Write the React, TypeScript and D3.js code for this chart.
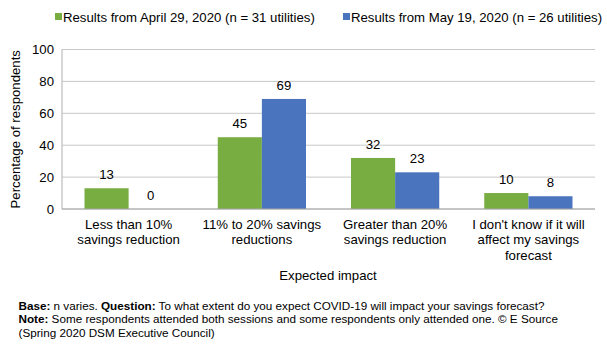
import React from "react";
import * as d3 from "d3";

const categories = [
  ["Less than 10%", "savings reduction"],
  ["11% to 20% savings", "reductions"],
  ["Greater than 20%", "savings reduction"],
  ["I don't know if it will", "affect my savings", "forecast"],
];
const seriesNames = [
  "Results from April 29, 2020 (n = 31 utilities)",
  "Results from May 19, 2020 (n = 26 utilities)",
];
const april = [13, 45, 32, 10];
const may = [0, 69, 23, 8];
const yTicks = [0, 20, 40, 60, 80, 100];
const colors = ["#78AD42", "#4A75BE"];

export default function App() {
  const W = 607, H = 348;
  const left = 62, right = 595, top = 49.5, bottom = 209;
  const font = "Liberation Sans, Arial, sans-serif";
  const x = d3.scaleBand<number>().domain(d3.range(categories.length)).range([left, right]).paddingInner(0).paddingOuter(0);
  const x1 = d3.scaleBand<number>().domain([0, 1]).range([0, x.bandwidth()]).paddingOuter(0.51).paddingInner(0);
  const y = d3.scaleLinear().domain([0, 100]).range([bottom, top]);
  const series = [april, may];
  return (
    <svg width={W} height={H} style={{ position: "absolute", left: 0, top: 0, background: "#fff" }} fontFamily={font}>
      <rect width={W} height={H} fill="#fff" />
      {/* legend */}
      <rect x={55} y={13} width={7} height={7} fill={colors[0]} />
      <text x={63} y={21.5} fontSize={13.2} fill="#000">{seriesNames[0]}</text>
      <rect x={343} y={13} width={7} height={7} fill={colors[1]} />
      <text x={351} y={21.5} fontSize={13.2} fill="#000">{seriesNames[1]}</text>
      {/* gridlines */}
      {yTicks.map((t) => (
        <g key={t}>
          <line x1={left} x2={right} y1={y(t)} y2={y(t)} stroke="#C8C8C8" strokeWidth={1} />
          <text x={left - 8} y={y(t) + 4.5} fontSize={13.2} textAnchor="end" fill="#000">{t}</text>
        </g>
      ))}
      <line x1={left} x2={left} y1={top} y2={bottom} stroke="#BDBDBD" strokeWidth={1.2} />
      {/* bars */}
      {series.map((s, si) =>
        s.map((v, i) => {
          const bx = (x(i) as number) + (x1(si) as number);
          return (
            <g key={`${si}-${i}`}>
              <rect x={bx} y={y(v)} width={x1.bandwidth()} height={bottom - y(v)} fill={colors[si]} />
              <text x={bx + x1.bandwidth() / 2} y={y(v) - 9} fontSize={13.2} textAnchor="middle" fill="#000">{v}</text>
            </g>
          );
        })
      )}
      <line x1={left} x2={right} y1={bottom} y2={bottom} stroke="#A6A6A6" strokeWidth={1.2} />
      {/* category labels */}
      {categories.map((lines, i) => (
        <text key={i} x={(x(i) as number) + x.bandwidth() / 2} y={228.5} fontSize={13.2} textAnchor="middle" fill="#000">
          {lines.map((l, j) => (
            <tspan key={j} x={(x(i) as number) + x.bandwidth() / 2} dy={j === 0 ? 0 : 15.7}>{l}</tspan>
          ))}
        </text>
      ))}
      <text x={328} y={279.5} fontSize={13.2} textAnchor="middle" fill="#000">Expected impact</text>
      <text transform={`translate(20,${(top + bottom) / 2}) rotate(-90)`} fontSize={13.2} textAnchor="middle" fill="#000">Percentage of respondents</text>
      {/* footnote */}
      <text x={18.5} y={309.5} fontSize={11.7} fill="#000">
        <tspan fontWeight="bold">Base:</tspan> n varies. <tspan fontWeight="bold">Question:</tspan> To what extent do you expect COVID-19 will impact your savings forecast?
      </text>
      <text x={18.5} y={323.3} fontSize={11.7} fill="#000">
        <tspan fontWeight="bold">Note:</tspan> Some respondents attended both sessions and some respondents only attended one. © E Source
      </text>
      <text x={18.5} y={337} fontSize={11.7} fill="#000">(Spring 2020 DSM Executive Council)</text>
    </svg>
  );
}
